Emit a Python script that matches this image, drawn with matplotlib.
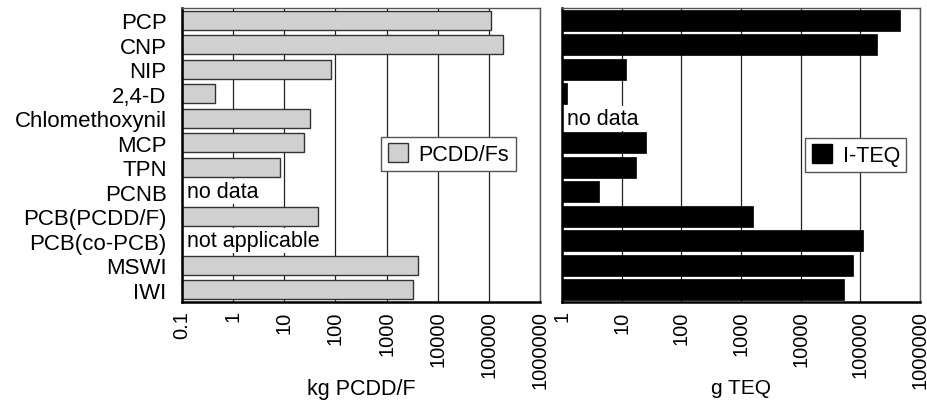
import numpy as np
import matplotlib
matplotlib.use('Agg')
import matplotlib.pyplot as plt
from matplotlib.patches import Patch
import matplotlib.transforms as mtransforms

plt.rcParams['font.family'] = ['Liberation Sans', 'DejaVu Sans']

categories = ['PCP', 'CNP', 'NIP', '2,4-D', 'Chlomethoxynil', 'MCP', 'TPN',
              'PCNB', 'PCB(PCDD/F)', 'PCB(co-PCB)', 'MSWI', 'IWI']

# kg PCDD/F (nan = no bar)
pcdd_kg = [1.1e5, 1.87e5, 83, 0.44, 32, 24, 8.1,
           np.nan, 46, np.nan, 4200, 3300]
# g TEQ
teq_g = [4.6e5, 1.9e5, 11.7, 1.2, np.nan, 26, 17.5,
         4.2, 1560, 1.1e5, 7.4e4, 5.4e4]

left_notes = {'PCNB': 'no data', 'PCB(co-PCB)': 'not applicable'}
right_notes = {'Chlomethoxynil': 'no data'}

left_ticks = [0.1, 1, 10, 100, 1000, 10000, 100000, 1000000]
left_ticklabels = ['0.1', '1', '10', '100', '1000', '10000', '100000', '1000000']
right_ticks = [1, 10, 100, 1000, 10000, 100000, 1000000]
right_ticklabels = ['1', '10', '100', '1000', '10000', '100000', '1000000']


def style_axes(ax, xmin, ticks, ticklabels, xlabel, labelsize):
    ax.set_xscale('log')
    ax.set_xlim(xmin, 1e6)
    ax.set_ylim(len(categories) - 0.5, -0.5)
    ax.set_xticks(ticks)
    ax.set_xticklabels(ticklabels, rotation=90, fontsize=14.5, va='top', ha='center')
    ax.xaxis.set_minor_locator(matplotlib.ticker.NullLocator())
    ax.tick_params(axis='x', length=0, pad=6)
    ax.tick_params(axis='y', length=0)
    ax.grid(axis='x', color='#222222', lw=0.9)
    ax.set_axisbelow(True)
    for s in ['left', 'bottom']:
        ax.spines[s].set_linewidth(1.8)
        ax.spines[s].set_color('black')
    for s in ['top', 'right']:
        ax.spines[s].set_linewidth(1.0)
        ax.spines[s].set_color('#555555')
    ax.set_xlabel(xlabel, fontsize=labelsize)
    ax.xaxis.set_label_coords(0.5, -0.258)


fig = plt.figure(figsize=(9.28, 4.02), dpi=100)
ax1 = fig.add_axes([182 / 928, 1 - 303 / 402, 358 / 928, 294 / 402])
ax2 = fig.add_axes([562 / 928, 1 - 303 / 402, 358 / 928, 294 / 402])

y = np.arange(len(categories))

# left panel
v1 = np.array(pcdd_kg)
m1 = np.isfinite(v1)
ax1.barh(y[m1], v1[m1] - 0.1, left=0.1, height=0.78, color='#d0d0d0',
         edgecolor='#333333', lw=1.0)
style_axes(ax1, 0.1, left_ticks, left_ticklabels, 'kg PCDD/F', 15.5)
ax1.set_yticks(y)
ax1.set_yticklabels(categories, fontsize=16)
ax1.tick_params(axis='y', pad=11)
tr1 = mtransforms.blended_transform_factory(ax1.transAxes, ax1.transData)
for name, note in left_notes.items():
    ax1.text(0.013, categories.index(name), note, transform=tr1, fontsize=15.5,
             va='center', ha='left',
             bbox=dict(facecolor='white', edgecolor='none', pad=1.5))
leg1 = ax1.legend(handles=[Patch(facecolor='#d0d0d0', edgecolor='#333333', label='PCDD/Fs')],
                  loc='center left', bbox_to_anchor=(0.556, 0.503), borderaxespad=0,
                  fontsize=15.5, handlelength=0.95, handleheight=0.95, handletextpad=0.5,
                  borderpad=0.3, fancybox=False, framealpha=1, edgecolor='#555555')
leg1.get_frame().set_linewidth(1.0)

# right panel
v2 = np.array(teq_g)
m2 = np.isfinite(v2)
ax2.barh(y[m2], v2[m2] - 1, left=1, height=0.84, color='black', edgecolor='black', lw=0.5)
style_axes(ax2, 1, right_ticks, right_ticklabels, 'g TEQ', 15)
ax2.set_yticks(y)
ax2.set_yticklabels([])
tr2 = mtransforms.blended_transform_factory(ax2.transAxes, ax2.transData)
for name, note in right_notes.items():
    ax2.text(0.013, categories.index(name), note, transform=tr2, fontsize=15.5,
             va='center', ha='left',
             bbox=dict(facecolor='white', edgecolor='none', pad=1.5))
leg2 = ax2.legend(handles=[Patch(facecolor='black', edgecolor='black', label='I-TEQ')],
                  loc='center left', bbox_to_anchor=(0.679, 0.5), borderaxespad=0,
                  fontsize=15.5, handlelength=0.95, handleheight=0.95, handletextpad=0.5,
                  borderpad=0.3, fancybox=False, framealpha=1, edgecolor='#555555')
leg2.get_frame().set_linewidth(1.0)

fig.savefig('out.png', dpi=100)
